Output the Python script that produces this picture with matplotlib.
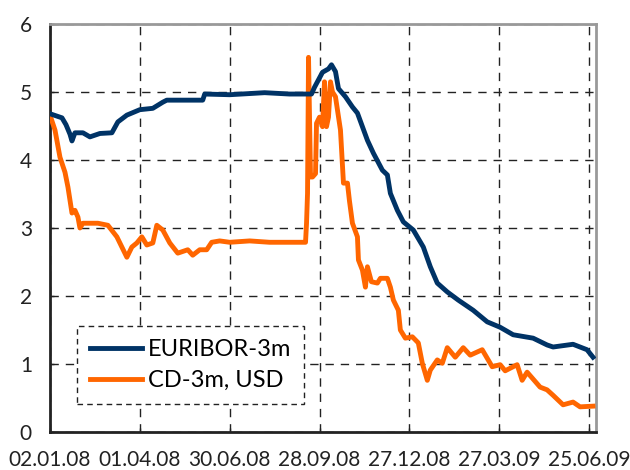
import numpy as np
import pandas as pd
import matplotlib
matplotlib.use("Agg")
import matplotlib.pyplot as plt
import matplotlib.dates as mdates

# EURIBOR-3m
euribor_dates = [
    "2008-01-02", "2008-01-14", "2008-01-18", "2008-01-22", "2008-01-24", "2008-01-27",
    "2008-02-04", "2008-02-11", "2008-02-21", "2008-03-04", "2008-03-10", "2008-03-19",
    "2008-04-01", "2008-04-14", "2008-04-24", "2008-04-28", "2008-05-11", "2008-06-03",
    "2008-06-05", "2008-06-30", "2008-08-04", "2008-08-29", "2008-09-20", "2008-09-23",
    "2008-10-01", "2008-10-07", "2008-10-10", "2008-10-14", "2008-10-17", "2008-10-24",
    "2008-10-31", "2008-11-05", "2008-11-10", "2008-11-15", "2008-11-21", "2008-11-30",
    "2008-12-05", "2008-12-08", "2008-12-15", "2008-12-21", "2008-12-31", "2009-01-10",
    "2009-01-17", "2009-01-24", "2009-02-03", "2009-02-14", "2009-03-01", "2009-03-15",
    "2009-03-28", "2009-04-10", "2009-04-30", "2009-05-14", "2009-05-20", "2009-06-09",
    "2009-06-23", "2009-06-29",
]
euribor_values = [
    4.68, 4.62, 4.52, 4.38, 4.28, 4.40,
    4.40, 4.34, 4.39, 4.40, 4.56, 4.66,
    4.74, 4.76, 4.85, 4.88, 4.88, 4.88,
    4.97, 4.96, 4.99, 4.97, 4.97, 5.07,
    5.29, 5.34, 5.40, 5.30, 5.05, 4.93,
    4.78, 4.69, 4.49, 4.29, 4.10, 3.85,
    3.78, 3.51, 3.26, 3.09, 2.97, 2.72,
    2.43, 2.19, 2.06, 1.94, 1.79, 1.62,
    1.54, 1.43, 1.38, 1.28, 1.25, 1.29,
    1.21, 1.10,
]

# CD-3m, USD
cd_dates = [
    "2008-01-02", "2008-01-07", "2008-01-12", "2008-01-17", "2008-01-20", "2008-01-24",
    "2008-01-27", "2008-01-30", "2008-02-01", "2008-02-04", "2008-02-19", "2008-02-29",
    "2008-03-09", "2008-03-19", "2008-03-24", "2008-03-29", "2008-04-03", "2008-04-08",
    "2008-04-14", "2008-04-18", "2008-04-24", "2008-05-01", "2008-05-09", "2008-05-19",
    "2008-05-24", "2008-05-31", "2008-06-07", "2008-06-12", "2008-06-20", "2008-06-30",
    "2008-07-20", "2008-08-09", "2008-08-29", "2008-09-14", "2008-09-15", "2008-09-16",
    "2008-09-17", "2008-09-19", "2008-09-21", "2008-09-24", "2008-09-25", "2008-09-28",
    "2008-10-01", "2008-10-03", "2008-10-05", "2008-10-07", "2008-10-09", "2008-10-11",
    "2008-10-14", "2008-10-19", "2008-10-22", "2008-10-26", "2008-10-28", "2008-10-31",
    "2008-11-05", "2008-11-06", "2008-11-10", "2008-11-13", "2008-11-15", "2008-11-19",
    "2008-11-25", "2008-11-28", "2008-12-05", "2008-12-08", "2008-12-11", "2008-12-16",
    "2008-12-18", "2008-12-23", "2008-12-30", "2009-01-05", "2009-01-09", "2009-01-14",
    "2009-01-17", "2009-01-24", "2009-01-29", "2009-02-03", "2009-02-11", "2009-02-19",
    "2009-02-26", "2009-03-10", "2009-03-20", "2009-03-28", "2009-04-02", "2009-04-14",
    "2009-04-19", "2009-04-24", "2009-05-07", "2009-05-14", "2009-05-20", "2009-05-30",
    "2009-06-09", "2009-06-16", "2009-06-29",
]
cd_values = [
    4.66, 4.44, 4.04, 3.82, 3.60, 3.22,
    3.26, 3.16, 3.00, 3.07, 3.07, 3.04,
    2.87, 2.57, 2.72, 2.78, 2.87, 2.75,
    2.78, 3.04, 2.97, 2.78, 2.63, 2.68,
    2.60, 2.68, 2.68, 2.79, 2.81, 2.79,
    2.81, 2.79, 2.79, 2.79, 3.07, 3.51,
    5.51, 3.75, 3.75, 3.80, 4.54, 4.63,
    4.49, 5.15, 4.49, 4.63, 5.15, 5.00,
    4.93, 4.44, 3.66, 3.66, 3.40, 3.07,
    2.87, 2.53, 2.38, 2.13, 2.43, 2.21,
    2.19, 2.26, 2.26, 2.13, 1.94, 1.79,
    1.50, 1.38, 1.40, 1.31, 1.01, 0.76,
    0.91, 1.06, 1.01, 1.24, 1.10, 1.24,
    1.13, 1.21, 0.96, 0.99, 0.90, 0.99,
    0.76, 0.88, 0.66, 0.62, 0.54, 0.40,
    0.44, 0.37, 0.38,
]

tick_dates = ["2008-01-02", "2008-04-01", "2008-06-30", "2008-09-28",
              "2008-12-27", "2009-03-27", "2009-06-25"]

euribor = pd.Series(euribor_values, index=pd.to_datetime(euribor_dates))
cd = pd.Series(cd_values, index=pd.to_datetime(cd_dates))

plt.rcParams['font.family'] = ['Lato', 'DejaVu Sans']

fig = plt.figure(figsize=(6.3, 4.7), dpi=100)
ax = fig.add_axes([50 / 630, 38 / 470, 546 / 630, 408 / 470])

ax.plot(euribor.index, euribor.values, color='#003366', lw=3.5,
        solid_joinstyle='round', label="EURIBOR-3m", zorder=4)
ax.plot(cd.index, cd.values, color='#FF6600', lw=3.5,
        solid_joinstyle='round', label="CD-3m, USD", zorder=3)

ax.set_xlim(pd.Timestamp("2008-01-02"), pd.Timestamp("2009-07-02"))
ax.set_ylim(0, 6)
ax.set_yticks(range(0, 7))
ax.set_xticks(pd.to_datetime(tick_dates))
ax.xaxis.set_major_formatter(mdates.DateFormatter("%d.%m.%y"))

ax.grid(True, color='#222222', linestyle=(0, (6, 5)), linewidth=1)
ax.tick_params(direction='in', length=3, width=1, labelsize=15, colors='#222222')
ax.tick_params(axis='x', pad=13)
ax.tick_params(axis='y', pad=13)

for side in ['left', 'bottom']:
    ax.spines[side].set_color('#222222')
    ax.spines[side].set_linewidth(2)
for side in ['top', 'right']:
    ax.spines[side].set_color('#999999')
    ax.spines[side].set_linewidth(2)

leg = ax.legend(loc='lower left', bbox_to_anchor=(0.049, 0.069), borderaxespad=0,
                fontsize=17, handlelength=2.2, handletextpad=0.25, borderpad=0.55,
                labelspacing=0.4, fancybox=False, framealpha=1)
frame = leg.get_frame()
frame.set_edgecolor('#222222')
frame.set_linestyle((0, (4, 3)))
frame.set_linewidth(1)

fig.savefig("out.png", dpi=100)
